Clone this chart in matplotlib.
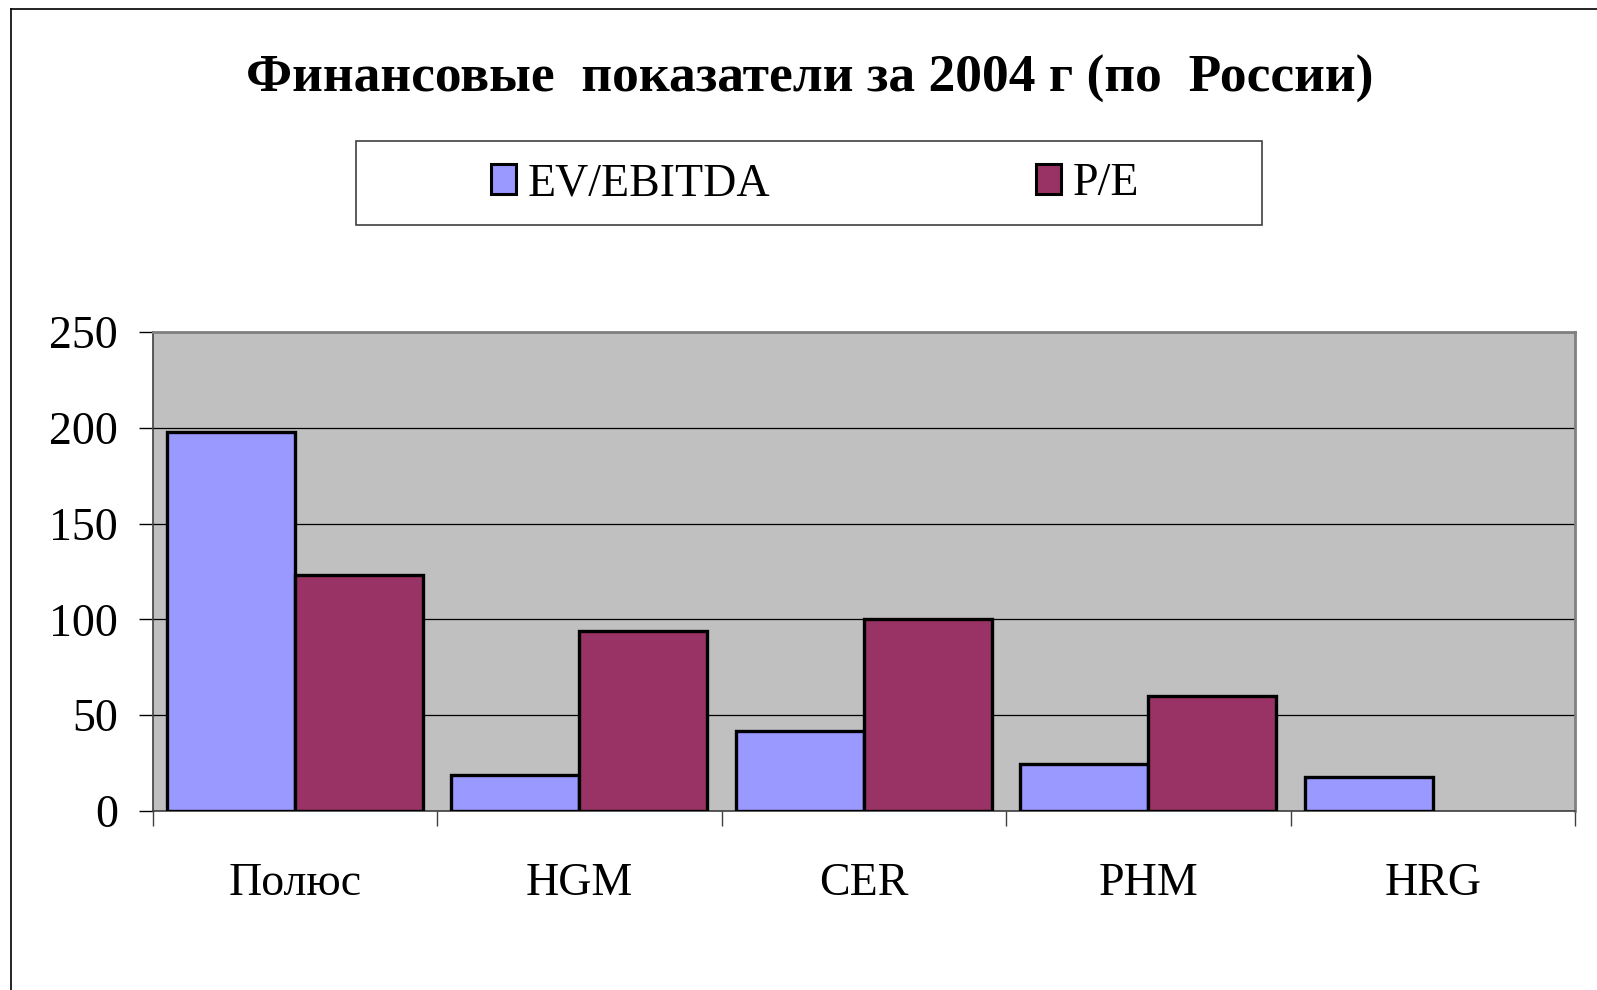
import matplotlib.pyplot as plt
import numpy as np
from matplotlib.patches import Rectangle, Patch
from matplotlib.lines import Line2D

plt.rcParams['font.family'] = ['Liberation Serif', 'DejaVu Serif']

# data
companies = ['Полюс', 'HGM', 'CER', 'PHM', 'HRG']
ev_ebitda = [198, 19, 42, 24.5, 17.5]
pe = [123, 94, 100, 60, 0]
series_names = ['EV/EBITDA', 'P/E']
colors = ['#9999FF', '#993366']
yticks = [0, 50, 100, 150, 200, 250]

W, H = 1597, 990
fig = plt.figure(figsize=(W / 100, H / 100), dpi=100)

# outer chart frame (runs off right/bottom edge like the original)
fig.add_artist(Line2D([10.5 / W, 10.5 / W], [0, 1 - 8.5 / H], color='black', lw=1.2))
fig.add_artist(Line2D([10.5 / W, 1], [1 - 8.5 / H, 1 - 8.5 / H], color='black', lw=1.2))

ax = fig.add_axes([152.7 / W, 1 - 811 / H, (1575 - 152.7) / W, (811 - 332) / H])
ax.set_facecolor('#C0C0C0')

x = np.arange(len(companies))
bw = 0.45
ax.bar(x - bw / 2, ev_ebitda, bw, color=colors[0], edgecolor='black', linewidth=2.4, zorder=3)
pe_bars = [v if v > 0 else np.nan for v in pe]
ax.bar(x + bw / 2, pe_bars, bw, color=colors[1], edgecolor='black', linewidth=2.4, zorder=3)

ax.set_xlim(-0.5, len(companies) - 0.5)
ax.set_ylim(0, 250)
ax.set_yticks(yticks)
ax.yaxis.grid(True, color='black', linewidth=0.9, zorder=1)
ax.set_axisbelow(True)

# category ticks at group boundaries, labels at centres
ax.set_xticks(np.arange(len(companies) + 1) - 0.5)
ax.set_xticklabels([])
ax.set_xticks(x, minor=True)
ax.set_xticklabels(companies, minor=True, fontsize=33)
ax.tick_params(axis='x', which='minor', length=0, pad=37)
ax.tick_params(axis='x', which='major', length=11, width=1, color='#404040')
ax.tick_params(axis='y', length=10, width=1, labelsize=33, pad=15, color='black')

for side in ['top', 'right']:
    ax.spines[side].set_color('#808080')
    ax.spines[side].set_linewidth(2)
ax.spines['left'].set_color('#404040')
ax.spines['left'].set_linewidth(1.2)
ax.spines['bottom'].set_color('#404040')
ax.spines['bottom'].set_linewidth(1.2)

fig.text(810 / W, 1 - 79 / H, 'Финансовые  показатели за 2004 г (по  России)',
         ha='center', va='center', fontsize=38.5, fontweight='bold')

# legend box
fig.add_artist(Rectangle((356 / W, 1 - 225 / H), (1262 - 356) / W, 84 / H,
                         transform=fig.transFigure, facecolor='white',
                         edgecolor='#404040', linewidth=1.2))
handles = [Patch(facecolor=c, edgecolor='black', linewidth=2.2) for c in colors]
fig.legend(handles, series_names, loc='center', bbox_to_anchor=(815 / W, 1 - 184 / H),
           ncol=2, frameon=False, fontsize=33, handlelength=0.55, handleheight=0.62,
           handletextpad=0.25, columnspacing=5.8)

fig.savefig('out.png', dpi=100)
